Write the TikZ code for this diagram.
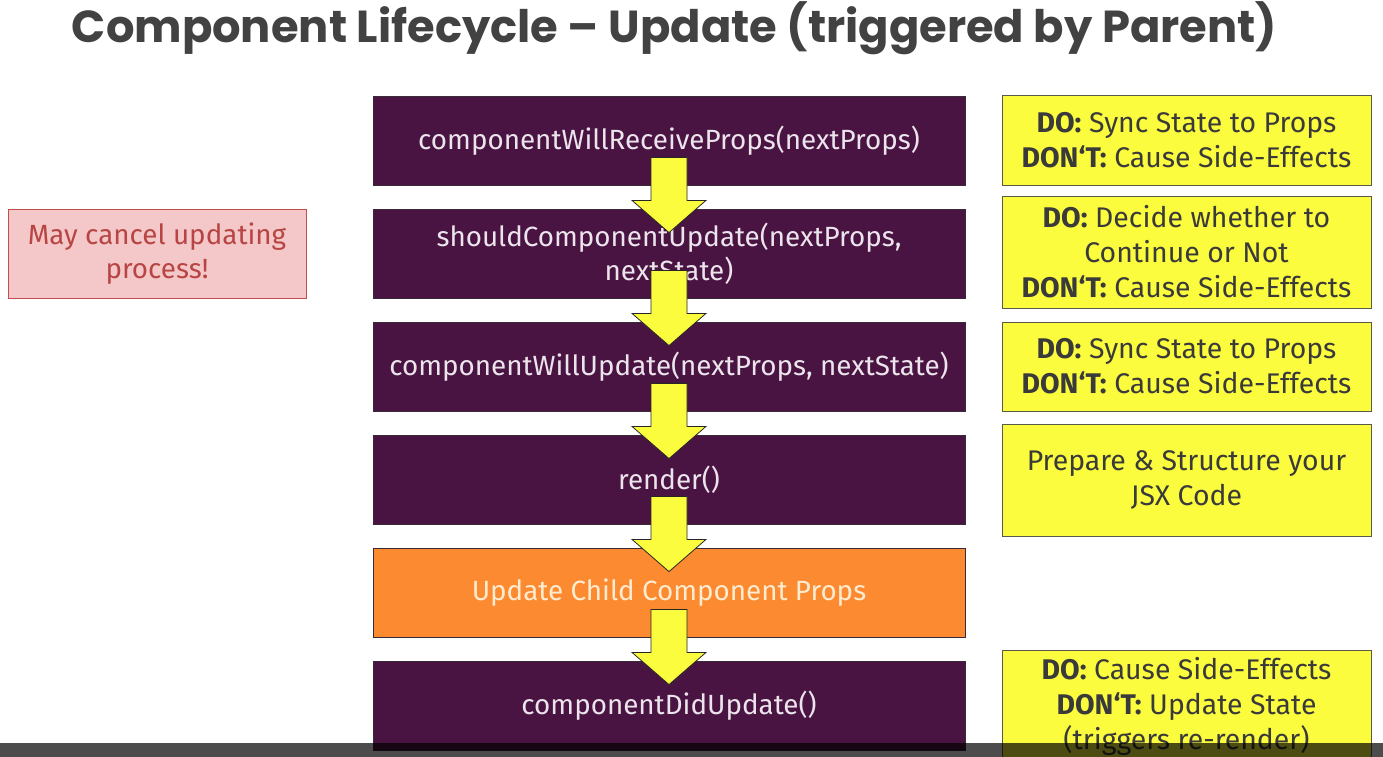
\documentclass[tikz,border=0pt]{standalone}
\usepackage{fontspec}
\setmainfont{Fira Sans}
\newfontfamily\titlefont{Poppins}
\usetikzlibrary{calc}
\definecolor{purp}{HTML}{4A1442}
\definecolor{purpline}{HTML}{3A2A38}
\definecolor{purptext}{HTML}{ECE4EC}
\definecolor{orng}{HTML}{FB8A30}
\definecolor{orngtext}{HTML}{FFEBCF}
\definecolor{yell}{HTML}{FCFC3E}
\definecolor{yellline}{HTML}{5A5A4A}
\definecolor{darktext}{HTML}{3A3A3A}
\definecolor{pinkfill}{HTML}{F4C8C8}
\definecolor{pinkline}{HTML}{C0504D}
\definecolor{pinktext}{HTML}{B84444}
\definecolor{titlegray}{HTML}{424242}
\newcommand\flowarrow[2]{%
  \draw[blockarr] ($(#1.south)+(-18,-28)$) -- ($(#1.south)+(-18,15)$) -- ($(#1.south)+(-37,15)$)
    -- ($(#2.north)+(0,24)$) -- ($(#1.south)+(37,15)$) -- ($(#1.south)+(18,15)$)
    -- ($(#1.south)+(18,-28)$) -- cycle;}
\begin{document}
\begin{tikzpicture}[x=1pt,y=-1pt,
  stage/.style={draw=purpline, fill=purp, text=purptext, minimum width=592pt,
    minimum height=89pt, inner sep=0pt, align=center, line width=0.8pt,
    font=\fontsize{27.8}{34}\selectfont},
  childstage/.style={stage, fill=orng, draw=purpline, text=orngtext},
  note/.style={draw=yellline, fill=yell, text=darktext, minimum width=369pt,
    inner sep=0pt, align=center, line width=1pt,
    font=\fontsize{28.4}{35}\selectfont},
  warn/.style={draw=pinkline, fill=pinkfill, text=pinktext, minimum width=298pt,
    minimum height=89pt, inner sep=0pt, align=center, line width=1pt,
    font=\fontsize{27.8}{34}\selectfont},
  blockarr/.style={fill=yell, draw=black!85, line width=0.8pt, line join=miter}]
\useasboundingbox (0,0) rectangle (1383,757);
\fill[white] (0,0) rectangle (1383,757);

\node[text=titlegray] (title) at (674.5,28)
  {\resizebox{1205pt}{!}{\titlefont\bfseries Component Lifecycle – Update (triggered by Parent)}};

\node[stage] (b1) at (669,140.5) {componentWillReceiveProps(nextProps)};
\node[stage] (b2) at (669,253.5) {shouldComponentUpdate(nextProps,\\nextState)};
\node[stage] (b3) at (669,366.5) {componentWillUpdate(nextProps, nextState)};
\node[stage] (b4) at (669,479.5) {render()};
\node[childstage] (b5) at (669,592.5) {Update Child Component Props};
\node[stage] (b6) at (669,705.5) {componentDidUpdate()};

\node[warn] (w) at (157,253.5) {May cancel updating\\process!};

\node[note, minimum height=89pt] (n1) at (1186.5,140.5)
  {\textbf{DO:} Sync State to Props\\\textbf{DON‘T:} Cause Side-Effects};
\node[note, minimum height=112pt] (n2) at (1186.5,252)
  {\textbf{DO:} Decide whether to\\Continue or Not\\\textbf{DON‘T:} Cause Side-Effects};
\node[note, minimum height=89pt] (n3) at (1186.5,366.5)
  {\textbf{DO:} Sync State to Props\\\textbf{DON‘T:} Cause Side-Effects};
\node[note, minimum height=112pt] (n4) at (1186.5,480)
  {Prepare \& Structure your\\JSX Code};
\node[note, minimum height=112pt] (n6) at (1186.5,706)
  {\textbf{DO:} Cause Side-Effects\\\textbf{DON‘T:} Update State\\(triggers re-render)};

\flowarrow{b1}{b2}
\flowarrow{b2}{b3}
\flowarrow{b3}{b4}
\flowarrow{b4}{b5}
\flowarrow{b5}{b6}

\fill[black, opacity=0.7] (0,743) rectangle (1383,757);
\end{tikzpicture}
\end{document}
